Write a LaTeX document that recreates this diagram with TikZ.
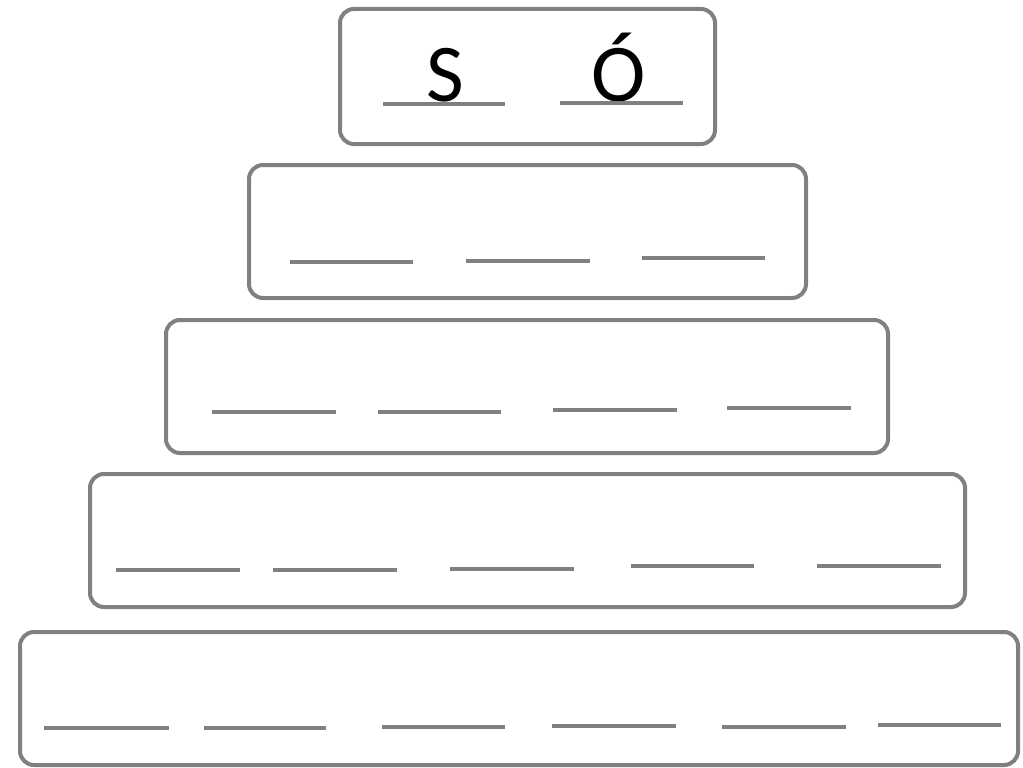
\documentclass[tikz,border=0pt]{standalone}
\usepackage{fontspec}
\setmainfont{Carlito}
\begin{document}
\begin{tikzpicture}[x=1pt,y=-1pt,
  tier/.style={draw=boxgray,line width=4pt,rounded corners=14pt,fill=white},
  blank/.style={draw=linegray,line width=3.5pt},
  letter/.style={font=\fontsize{82}{82}\selectfont,anchor=base,inner sep=0pt}]
\definecolor{boxgray}{HTML}{808080}
\definecolor{linegray}{HTML}{7F7F7F}
\useasboundingbox[fill=white] (0,0) rectangle (1023,768);
% tiers
\draw[tier] (340,9) rectangle (715,144);
\draw[tier] (249,165) rectangle (806,298);
\draw[tier] (166,320) rectangle (888,453);
\draw[tier] (90,474) rectangle (965,607);
\draw[tier] (20,632) rectangle (1018,765);
% tier 1
\node[letter] (s) at (445,101) {S};
\node[letter] (o) at (619,101) {Ó};
\draw[blank] (383,104) -- (505,104);
\draw[blank] (560,103) -- (683,103);
% tier 2
\draw[blank] (290,262) -- (413,262);
\draw[blank] (466,261) -- (590,261);
\draw[blank] (642,258) -- (765,258);
% tier 3
\draw[blank] (212,412) -- (336,412);
\draw[blank] (378,412) -- (501,412);
\draw[blank] (553,410) -- (677,410);
\draw[blank] (727,408) -- (851,408);
% tier 4
\draw[blank] (116,570) -- (240,570);
\draw[blank] (273,570) -- (397,570);
\draw[blank] (450,569) -- (574,569);
\draw[blank] (631,566) -- (754,566);
\draw[blank] (817,566) -- (941,566);
% tier 5
\draw[blank] (44,728) -- (169,728);
\draw[blank] (204,728) -- (326,728);
\draw[blank] (382,727) -- (505,727);
\draw[blank] (552,726) -- (676,726);
\draw[blank] (722,727) -- (846,727);
\draw[blank] (878,725) -- (1001,725);
\end{tikzpicture}
\end{document}
